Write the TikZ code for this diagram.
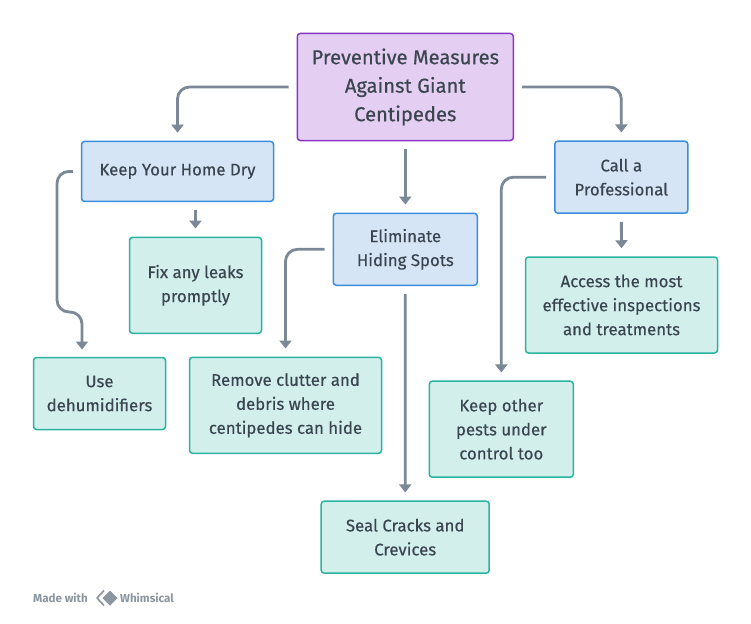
\documentclass[tikz,border=0pt]{standalone}
\usepackage{fontspec}
\setmainfont{Fira Sans}[FakeBold=0.4]
\newfontfamily\footfont{Fira Sans}
\usetikzlibrary{arrows.meta}

\definecolor{rootfill}{HTML}{E4CFF3}
\definecolor{rootline}{HTML}{8A35C8}
\definecolor{blufill}{HTML}{D5E5F5}
\definecolor{bluline}{HTML}{3B8EDE}
\definecolor{tealfill}{HTML}{D2EFEC}
\definecolor{tealline}{HTML}{2AB3A1}
\definecolor{arrowgray}{HTML}{7B8896}
\definecolor{txtgray}{HTML}{3A4550}
\definecolor{footgray}{HTML}{8C96A0}

\tikzset{
  box/.style={draw, line width=1.5pt, rounded corners=3pt, align=center,
    text=txtgray, inner sep=0pt, font=\fontsize{16.8}{24}\selectfont},
  rootbox/.style={box, fill=rootfill, draw=rootline,
    font=\fontsize{20.2}{28.5}\selectfont},
  mainbox/.style={box, fill=blufill, draw=bluline},
  leafbox/.style={box, fill=tealfill, draw=tealline},
  conn/.style={draw=arrowgray, line width=2.8pt, rounded corners=12pt,
    shorten <=8pt, shorten >=8pt,
    -{Triangle[width=12pt,length=8pt]}}
}

\begin{document}
\begin{tikzpicture}[x=1pt,y=-1pt]
  \useasboundingbox (0,0) rectangle (751,623);
  \fill[white] (0,0) rectangle (751,623);

  \node[rootbox, minimum width=216pt, minimum height=107pt] (root) at (405.3,87)
    {Preventive Measures\\Against Giant\\Centipedes};

  \node[mainbox, minimum width=192pt, minimum height=60pt] (dry) at (177.5,171.4)
    {Keep Your Home Dry};
  \node[mainbox, minimum width=144pt, minimum height=72pt] (elim) at (405.3,249.3)
    {Eliminate\\Hiding Spots};
  \node[mainbox, minimum width=133pt, minimum height=72pt] (prof) at (621.3,177.2)
    {Call a\\Professional};

  \node[leafbox, minimum width=132pt, minimum height=96pt] (fix) at (195.5,285.3)
    {Fix any leaks\\promptly};
  \node[leafbox, minimum width=132pt, minimum height=72pt] (dehum) at (99.5,393.5)
    {Use\\dehumidifiers};
  \node[leafbox, minimum width=192pt, minimum height=96pt] (clutter) at (285.5,405.3)
    {Remove clutter and\\debris where\\centipedes can hide};
  \node[leafbox, minimum width=168pt, minimum height=72pt] (seal) at (405.2,537.2)
    {Seal Cracks and\\Crevices};
  \node[leafbox, minimum width=192pt, minimum height=96pt] (access) at (621.5,305)
    {Access the most\\effective inspections\\and treatments};
  \node[leafbox, minimum width=144pt, minimum height=96pt] (pests) at (501.3,429.2)
    {Keep other\\pests under\\control too};

  \draw[conn] (root.west) -| (dry.north);
  \draw[conn] (root.south) -- (elim.north);
  \draw[conn] (root.east) -| (prof.north);

  \draw[conn] (fix.north |- dry.south) -- (fix.north);
  \draw[conn] (dry.west) -| (57,312) -- (82,312) -- (82,357.5);
  \draw[conn] (elim.west) -| (clutter.north);
  \draw[conn] (elim.south) -- (seal.north);
  \draw[conn] (prof.south) -- (access.north);
  \draw[conn] (prof.west) -| (pests.north);

  % footer
  \node[anchor=west, text=footgray, inner sep=0pt, font=\footfont\fontsize{11.6}{12}\selectfont\bfseries] (made) at (33,598) {Made with};
  \draw[footgray, line width=1.6pt, line join=round] (104,590.5) -- (97,598) -- (104,605.5);
  \fill[footgray] (110,590.5) -- (117.5,598) -- (110,605.5) -- (102.5,598) -- cycle;
  \node[anchor=west, text=footgray, inner sep=0pt, font=\footfont\fontsize{11.6}{12}\selectfont\bfseries] (whim) at (120,598) {Whimsical};
\end{tikzpicture}
\end{document}
